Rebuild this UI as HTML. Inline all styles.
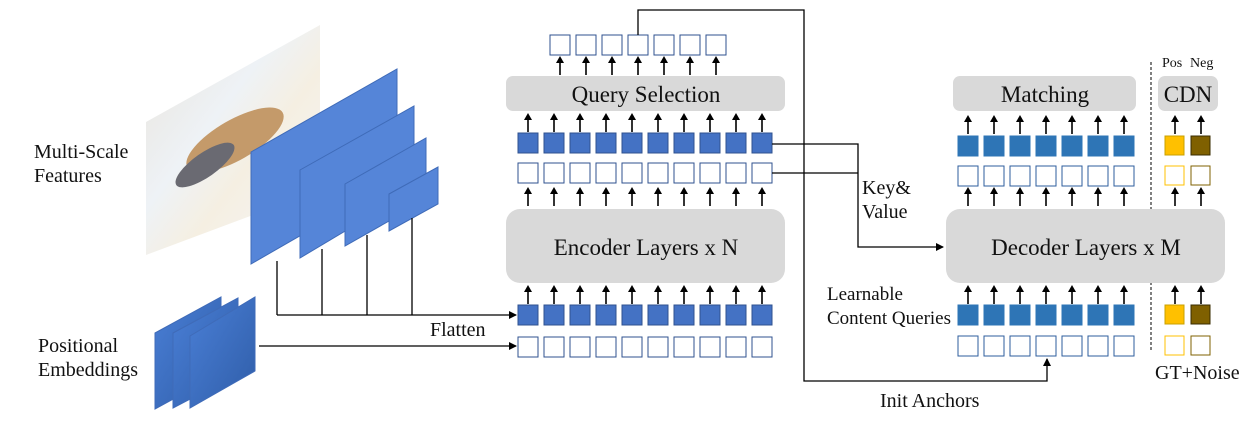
<!DOCTYPE html>
<html><head><meta charset="utf-8"><style>
html,body{margin:0;padding:0;background:#fff;}
svg{display:block;}
text{font-family:"Liberation Serif",serif;fill:#111;}
</style></head><body>
<svg width="1248" height="422" viewBox="0 0 1248 422" xmlns="http://www.w3.org/2000/svg">
<defs>
<marker id="ah" markerWidth="8" markerHeight="8" refX="7" refY="4" orient="auto" markerUnits="userSpaceOnUse">
<path d="M0,0 L8,4 L0,8 z" fill="#000"/></marker>
<g id="ua"><line x1="0" y1="18" x2="0" y2="2" stroke="#000" stroke-width="1.6"/><path d="M-4,6 L0,-1 L4,6 z" fill="#000"/></g>
<rect id="fs" width="20" height="20" fill="#4472c4" stroke="#2f528f" stroke-width="1"/>
<rect id="es" width="20" height="20" fill="#fff" stroke="#2f528f" stroke-width="1"/>
<rect id="ds" width="20" height="20" fill="#2e75b6" stroke="#2e75b6" stroke-width="1"/>
<rect id="des" width="20" height="20" fill="#fff" stroke="#2e5c9c" stroke-width="1"/>
<linearGradient id="img" x1="0" y1="0" x2="1" y2="1">
<stop offset="0" stop-color="#e8e3da"/><stop offset="0.4" stop-color="#eef2f6"/><stop offset="0.6" stop-color="#f5efe2"/><stop offset="1" stop-color="#f4f6fb"/></linearGradient>
<linearGradient id="pe" x1="0" y1="0" x2="1" y2="1"><stop offset="0" stop-color="#4a7fd6"/><stop offset="1" stop-color="#2f5da8"/></linearGradient>
</defs>

<!-- image -->
<polygon points="146,122 320,25 320,190 146,255" fill="url(#img)"/>
<ellipse cx="235" cy="140" rx="55" ry="20" fill="#c49a6a" transform="rotate(-30 235 140)"/>
<ellipse cx="205" cy="165" rx="35" ry="12" fill="#6a6a72" transform="rotate(-35 205 165)"/>
<!-- feature planes -->
<polygon points="251,152 397,69 397,180 251,264" fill="#5585d8" stroke="#3f6bb8"/>
<polygon points="300,170 414,106 414,190 300,258" fill="#5585d8" stroke="#3f6bb8"/>
<polygon points="345,184 426,138 426,200 345,246" fill="#5585d8" stroke="#3f6bb8"/>
<polygon points="389,194 438,167 438,204 389,231" fill="#5585d8" stroke="#3f6bb8"/>
<g stroke="#000" stroke-width="1.3" fill="none">
<line x1="277" y1="261" x2="277" y2="315"/><line x1="322" y1="249" x2="322" y2="315"/>
<line x1="367" y1="235" x2="367" y2="315"/><line x1="412" y1="218" x2="412" y2="315"/>
<line x1="277" y1="315" x2="516" y2="315" marker-end="url(#ah)"/>
<line x1="259" y1="346" x2="516" y2="346" marker-end="url(#ah)"/>
</g>
<!-- positional planes -->
<polygon points="155,333 221,297 221,373 155,409" fill="url(#pe)" stroke="#3f6bb8"/>
<polygon points="173,333 238,298 238,374 173,408" fill="url(#pe)" stroke="#3f6bb8"/>
<polygon points="190,336 255,297 255,371 190,408" fill="url(#pe)" stroke="#3f6bb8"/>

<text x="34" y="158" font-size="20">Multi-Scale</text>
<text x="34" y="182" font-size="20">Features</text>
<text x="38" y="352" font-size="20">Positional</text>
<text x="38" y="376" font-size="20">Embeddings</text>
<text x="430" y="336" font-size="20">Flatten</text>

<!-- encoder side -->
<rect x="506" y="76" width="279" height="35" rx="7" fill="#d9d9d9"/>
<text x="646" y="102" font-size="23" text-anchor="middle">Query Selection</text>
<rect x="506" y="209" width="279" height="74" rx="14" fill="#d9d9d9"/>
<text x="646" y="255" font-size="23" text-anchor="middle">Encoder Layers x N</text>

<g>
<use href="#es" x="550" y="35"/><use href="#es" x="576" y="35"/><use href="#es" x="602" y="35"/><use href="#es" x="628" y="35"/><use href="#es" x="654" y="35"/><use href="#es" x="680" y="35"/><use href="#es" x="706" y="35"/>
<use href="#ua" x="560" y="57"/><use href="#ua" x="586" y="57"/><use href="#ua" x="612" y="57"/><use href="#ua" x="638" y="57"/><use href="#ua" x="664" y="57"/><use href="#ua" x="690" y="57"/><use href="#ua" x="716" y="57"/>
</g>
<g id="encA">
<use href="#ua" x="528" y="114"/><use href="#ua" x="554" y="114"/><use href="#ua" x="580" y="114"/><use href="#ua" x="606" y="114"/><use href="#ua" x="632" y="114"/><use href="#ua" x="658" y="114"/><use href="#ua" x="684" y="114"/><use href="#ua" x="710" y="114"/><use href="#ua" x="736" y="114"/><use href="#ua" x="762" y="114"/>
</g>
<use href="#encA" y="74"/>
<use href="#encA" y="172"/>
<g id="encF">
<use href="#fs" x="518" y="133"/><use href="#fs" x="544" y="133"/><use href="#fs" x="570" y="133"/><use href="#fs" x="596" y="133"/><use href="#fs" x="622" y="133"/><use href="#fs" x="648" y="133"/><use href="#fs" x="674" y="133"/><use href="#fs" x="700" y="133"/><use href="#fs" x="726" y="133"/><use href="#fs" x="752" y="133"/>
</g>
<use href="#encF" y="172"/>
<g id="encE">
<use href="#es" x="518" y="163"/><use href="#es" x="544" y="163"/><use href="#es" x="570" y="163"/><use href="#es" x="596" y="163"/><use href="#es" x="622" y="163"/><use href="#es" x="648" y="163"/><use href="#es" x="674" y="163"/><use href="#es" x="700" y="163"/><use href="#es" x="726" y="163"/><use href="#es" x="752" y="163"/>
</g>
<use href="#encE" y="174"/>

<!-- connectors -->
<g stroke="#000" stroke-width="1.3" fill="none">
<polyline points="638,35 638,10 804,10 804,381 1047,381 1047,359"/>
<polyline points="772,144 858,144 858,247 943,247" marker-end="url(#ah)"/>
<line x1="772" y1="173" x2="858" y2="173"/>
</g>
<path d="M1043,366 L1047,358 L1051,366 z" fill="#000"/>
<text x="862" y="194" font-size="20">Key&amp;</text>
<text x="862" y="218" font-size="20">Value</text>
<text x="827" y="300" font-size="19">Learnable</text>
<text x="827" y="324" font-size="19">Content Queries</text>
<text x="880" y="407" font-size="20">Init Anchors</text>

<!-- decoder side -->
<line x1="1151" y1="62" x2="1151" y2="352" stroke="#000" stroke-width="1" stroke-dasharray="3,2"/>
<rect x="953" y="76" width="183" height="35" rx="7" fill="#d9d9d9"/>
<text x="1045" y="102" font-size="23" text-anchor="middle">Matching</text>
<rect x="1158" y="76" width="60" height="35" rx="7" fill="#d9d9d9"/>
<text x="1188" y="102" font-size="23" text-anchor="middle">CDN</text>
<text x="1162" y="67" font-size="14">Pos</text><text x="1190" y="67" font-size="14">Neg</text>
<rect x="946" y="209" width="279" height="74" rx="14" fill="#d9d9d9"/>
<text x="1086" y="255" font-size="23" text-anchor="middle">Decoder Layers x M</text>

<g id="decA">
<use href="#ua" x="968" y="116"/><use href="#ua" x="994" y="116"/><use href="#ua" x="1020" y="116"/><use href="#ua" x="1046" y="116"/><use href="#ua" x="1072" y="116"/><use href="#ua" x="1098" y="116"/><use href="#ua" x="1124" y="116"/><use href="#ua" x="1175" y="116"/><use href="#ua" x="1201" y="116"/>
</g>
<use href="#decA" y="72"/>
<use href="#decA" y="170"/>
<g id="decF">
<use href="#ds" x="958" y="136"/><use href="#ds" x="984" y="136"/><use href="#ds" x="1010" y="136"/><use href="#ds" x="1036" y="136"/><use href="#ds" x="1062" y="136"/><use href="#ds" x="1088" y="136"/><use href="#ds" x="1114" y="136"/>
<rect x="1165" y="136" width="19" height="19" fill="#ffc000" stroke="#c9a000"/>
<rect x="1191" y="136" width="19" height="19" fill="#7f6000" stroke="#3a2c00"/>
</g>
<use href="#decF" y="169"/>
<g id="decE">
<use href="#des" x="958" y="166"/><use href="#des" x="984" y="166"/><use href="#des" x="1010" y="166"/><use href="#des" x="1036" y="166"/><use href="#des" x="1062" y="166"/><use href="#des" x="1088" y="166"/><use href="#des" x="1114" y="166"/>
<rect x="1165" y="166" width="19" height="19" fill="#fff" stroke="#ffc000"/>
<rect x="1191" y="166" width="19" height="19" fill="#fff" stroke="#7f6000"/>
</g>
<use href="#decE" y="170"/>
<text x="1155" y="379" font-size="20">GT+Noise</text>
</svg>
</body></html>
